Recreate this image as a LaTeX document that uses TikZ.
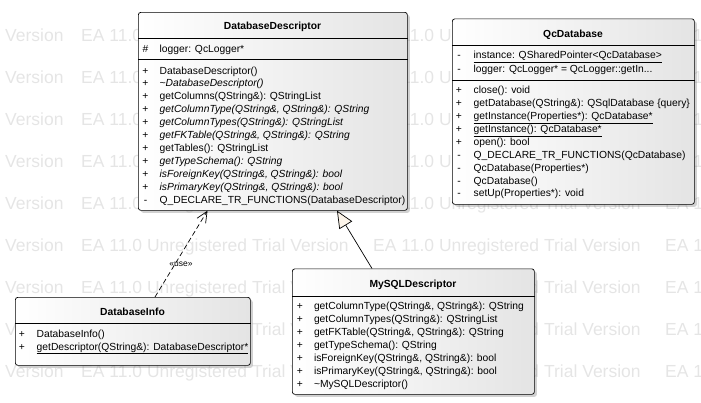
\documentclass[tikz,border=0pt]{standalone}
\usepackage{fontspec}
\setmainfont{Liberation Sans}
\usetikzlibrary{arrows.meta,shadows,calc}
\definecolor{markgray}{RGB}{229,229,229}
\definecolor{boxgray}{RGB}{228,228,228}
\definecolor{genfill}{RGB}{253,245,234}

\begin{document}
\begin{tikzpicture}[x=1pt,y=-1pt,
  classbox/.style={draw=black,line width=0.7pt,rounded corners=2.5pt,
    left color=white,right color=boxgray,
    drop shadow={shadow xshift=2.5pt,shadow yshift=-2.5pt,opacity=0.3,fill=black!60},
    inner sep=0pt,anchor=north west},
  classname/.style={font=\fontsize{10.3}{12}\selectfont\bfseries,anchor=base,inner sep=0pt},
  member/.style={font=\fontsize{10.3}{12}\selectfont,anchor=base west,inner sep=0pt},
  vis/.style={font=\fontsize{10.3}{12}\selectfont,anchor=base,inner sep=0pt},
  divider/.style={draw=black,line width=0.7pt},
  wmark/.style={font=\fontsize{17.5}{20}\selectfont,text=markgray,anchor=base west,inner sep=0pt},
  link/.style={draw=black,line width=0.7pt}]

  \useasboundingbox (0,0) rectangle (701,402);

  % trial watermark
  \begin{scope}
    \clip (0,0) rectangle (701,402);
    \foreach \r in {1,...,9}{
      \node[wmark] (wv\r) at (5,-0.3+42*\r) {Version};
      \foreach \c in {0,1,2}
        \node[wmark] (we\r\c) at (81+292*\c,-0.3+42*\r) {EA 11.0 Unregistered Trial Version};
    }
  \end{scope}

  % DatabaseDescriptor
  \node[classbox,minimum width=269pt,minimum height=198pt] (dd) at (138,12) {};
  \node[classname] (ddname) at (272.5,29.7) {DatabaseDescriptor};
  \draw[divider] ($(dd.north west)+(0,26)$) -- ($(dd.north east)+(0,26)$);
  \draw[divider] ($(dd.north west)+(0,47)$) -- ($(dd.north east)+(0,47)$);
  \node[vis] (ddattrvis) at (145.5,52.7) {\#};
  \node[member] (ddattr) at (159.5,52.7) {logger: QcLogger*};
  \foreach \vs/\txt [count=\i from 0] in {
      +/{DatabaseDescriptor()},
      +/{\textit{\textasciitilde DatabaseDescriptor()}},
      +/{getColumns(QString\&): QStringList},
      +/{\textit{getColumnType(QString\&, QString\&): QString}},
      +/{\textit{getColumnTypes(QString\&): QStringList}},
      +/{\textit{getFKTable(QString\&, QString\&): QString}},
      +/{getTables(): QStringList},
      +/{\textit{getTypeSchema(): QString}},
      +/{\textit{isForeignKey(QString\&, QString\&): bool}},
      +/{\textit{isPrimaryKey(QString\&, QString\&): bool}},
      -/{Q\_DECLARE\_TR\_FUNCTIONS(DatabaseDescriptor)}}{
    \node[vis] (ddvis\i) at (145.5,74+12.9*\i) {\vs};
    \node[member] (ddop\i) at (159.5,74+12.9*\i) {\txt};
  }

  % QcDatabase
  \node[classbox,minimum width=242pt,minimum height=185.5pt] (qc) at (452,18.5) {};
  \node[classname] (qcname) at (573,37.7) {QcDatabase};
  \draw[divider] ($(qc.north west)+(0,26.5)$) -- ($(qc.north east)+(0,26.5)$);
  \draw[divider] ($(qc.north west)+(0,61.5)$) -- ($(qc.north east)+(0,61.5)$);
  \node[vis] (qcattrvis0) at (459,58.7) {-};
  \node[member] (qcattr0) at (473.5,58.7) {\underline{instance: QSharedPointer<QcDatabase>}};
  \node[vis] (qcattrvis1) at (459,72.8) {-};
  \node[member] (qcattr1) at (473.5,72.8) {logger: QcLogger* = QcLogger::getIn...};
  \foreach \vs/\txt [count=\i from 0] in {
      +/{close(): void},
      +/{getDatabase(QString\&): QSqlDatabase \{query\}},
      +/{\underline{getInstance(Properties*): QcDatabase*}},
      +/{\underline{getInstance(): QcDatabase*}},
      +/{open(): bool},
      -/{Q\_DECLARE\_TR\_FUNCTIONS(QcDatabase)},
      -/{QcDatabase(Properties*)},
      -/{QcDatabase()},
      -/{setUp(Properties*): void}}{
    \node[vis] (qcvis\i) at (459,93.7+12.9*\i) {\vs};
    \node[member] (qcop\i) at (473.5,93.7+12.9*\i) {\txt};
  }

  % DatabaseInfo
  \node[classbox,minimum width=235pt,minimum height=68pt] (di) at (15,297) {};
  \node[classname] (diname) at (132.5,315.4) {DatabaseInfo};
  \draw[divider] ($(di.north west)+(0,26)$) -- ($(di.north east)+(0,26)$);
  \node[vis] (divis0) at (22,337) {+};
  \node[member] (diop0) at (36.5,337) {DatabaseInfo()};
  \node[vis] (divis1) at (22,350) {+};
  \node[member] (diop1) at (36.5,350) {\underline{getDescriptor(QString\&): DatabaseDescriptor*}};

  % MySQLDescriptor
  \node[classbox,minimum width=242pt,minimum height=125.5pt] (my) at (292,268.5) {};
  \node[classname] (myname) at (413,287.7) {MySQLDescriptor};
  \draw[divider] ($(my.north west)+(0,27.5)$) -- ($(my.north east)+(0,27.5)$);
  \foreach \txt [count=\i from 0] in {
      {getColumnType(QString\&, QString\&): QString},
      {getColumnTypes(QString\&): QStringList},
      {getFKTable(QString\&, QString\&): QString},
      {getTypeSchema(): QString},
      {isForeignKey(QString\&, QString\&): bool},
      {isPrimaryKey(QString\&, QString\&): bool},
      {\textasciitilde MySQLDescriptor()}}{
    \node[vis] (myvis\i) at (300,309.4+13*\i) {+};
    \node[member] (myop\i) at (313.8,309.4+13*\i) {\txt};
  }

  % connectors
  \draw[link,dash pattern=on 5pt off 3pt,-{Straight Barb[length=11pt,width=10pt]}]
    ([xshift=140pt]di.north west) -- node[pos=0.38,xshift=6pt,font=\fontsize{8.5}{10}\selectfont] (uselbl) {«use»}
    ([xshift=69.5pt]dd.south west);
  \draw[link,-{Triangle[fill=genfill,length=17pt,width=15pt]}]
    ([xshift=80pt]my.north west) -- ([xshift=199pt]dd.south west);
\end{tikzpicture}
\end{document}
